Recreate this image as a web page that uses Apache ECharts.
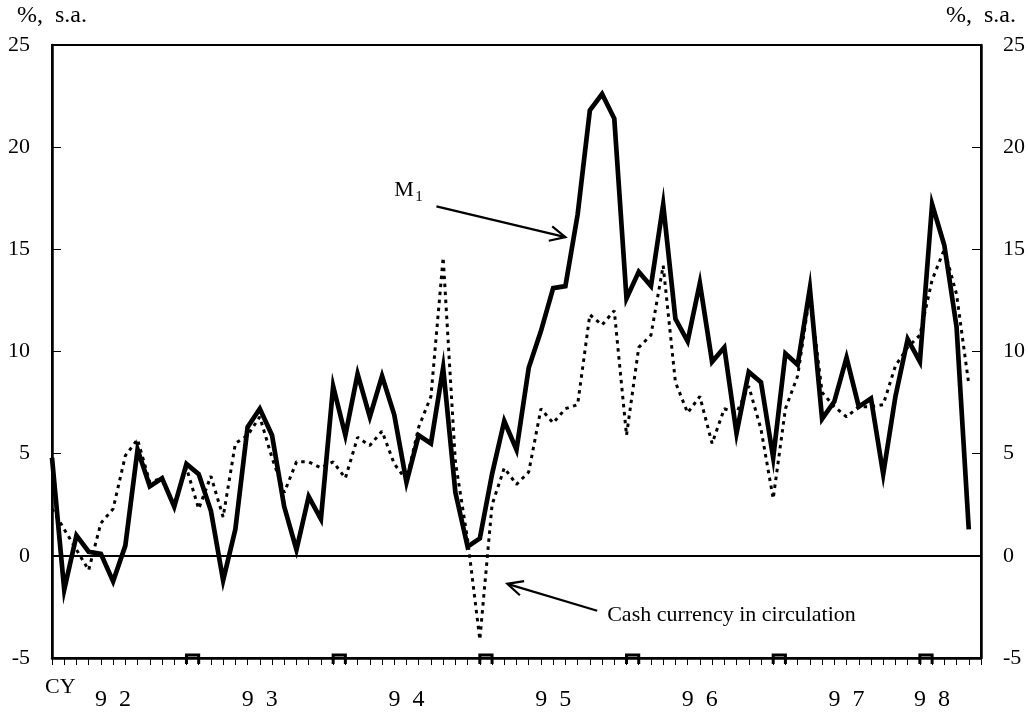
<!DOCTYPE html>
<html>
<head>
<meta charset="utf-8">
<script src="https://cdn.jsdelivr.net/npm/echarts@6/dist/echarts.min.js"></script>
<style>html,body{margin:0;padding:0;background:#fff}#c{width:1028px;height:720px}</style>
</head>
<body>
<div id="c"></div>
<script>
// Monthly categories Jan 1992 .. May 1998 (last slot is empty axis room)
const months = [];
for (let y = 1992; y <= 1998; y++) {
  for (let m = 1; m <= 12; m++) {
    if (months.length < 77) months.push(y + '-' + (m < 10 ? '0' + m : m));
  }
}
// Year labels and the category index they sit under
const yearLabels = ['9\u20022', '9\u20023', '9\u20024', '9\u20025', '9\u20026', '9\u20027', '9\u20028'];
const yearLabelIndex = [5, 17, 29, 41, 53, 65, 72];
// Year boundaries (between Dec and Jan)
const yearBoundaries = [11.5, 23.5, 35.5, 47.5, 59.5, 71.5];

// M1, % s.a. (Jan 92 .. Apr 98)
const m1Values = [
  4.8, -1.66, 1.0, 0.2, 0.1, -1.25, 0.5, 5.2, 3.4, 3.8, 2.4, 4.5,
  4.0, 2.2, -1.2, 1.3, 6.3, 7.2, 5.9, 2.4, 0.3, 2.9, 1.8, 8.3,
  5.9, 8.9, 6.8, 8.8, 6.9, 3.6, 5.9, 5.5, 9.2, 3.1, 0.45, 0.85,
  4.0, 6.6, 5.2, 9.2, 11.0, 13.1, 13.2, 16.7, 21.8, 22.6, 21.4, 12.6,
  13.9, 13.2, 17.2, 11.6, 10.5, 13.35, 9.5, 10.2, 6.0, 9.0, 8.5, 4.8,
  9.9, 9.35, 13.1, 6.7, 7.55, 9.7, 7.3, 7.7, 4.0, 7.8, 10.6, 9.5,
  17.2, 15.2, 11.2, 1.3
];
// Cash currency in circulation, % s.a.
const cashValues = [
  2.3, 1.3, 0.3, -0.7, 1.6, 2.3, 4.9, 5.7, 3.6, 3.8, 2.5, 4.3,
  2.3, 3.9, 1.9, 5.5, 5.9, 6.8, 4.8, 3.1, 4.6, 4.6, 4.3, 4.6,
  3.8, 5.8, 5.4, 6.1, 4.5, 3.7, 6.3, 7.8, 14.6, 4.6, 0.8, -4.1,
  2.5, 4.3, 3.5, 4.1, 7.2, 6.5, 7.2, 7.4, 11.8, 11.3, 12.0, 5.9,
  10.2, 10.8, 14.2, 8.5, 7.0, 7.8, 5.5, 7.2, 7.0, 8.3, 6.2, 2.8,
  7.2, 8.8, 12.8, 8.0, 7.3, 6.8, 7.3, 7.3, 7.4, 9.3, 10.2, 10.8,
  13.5, 15.0, 12.8, 8.4
];
// Y-axis ticks
const yMin = -5, yMax = 25, yStep = 5;

// Annotation arrows [fromX, fromY, toX, toY] in data units
const arrows = [[31.45, 17.1, 42.0, 15.6], [44.6, -2.69, 37.25, -1.37]];
// Annotation texts [x, y, kind]
const notes = [[28.0, 17.9, 'M1'], [45.42, -2.89, 'Cash currency in circulation']];

const FONT = '"Liberation Serif", "Times New Roman", serif';
const chart = echarts.init(document.getElementById('c'));

const yAxisCommon = {
  type: 'value', min: yMin, max: yMax, interval: yStep,
  name: '%,\u2002s.a.', nameLocation: 'end', nameGap: 17,
  nameTextStyle: { fontSize: 24, fontFamily: FONT, color: '#000', align: 'center' },
  axisLine: { show: true, onZero: false, lineStyle: { color: '#000', width: 2.5 } },
  axisTick: { show: true, inside: true, length: 9, lineStyle: { color: '#000', width: 1 } },
  axisLabel: { fontSize: 22, fontFamily: FONT, color: '#000', margin: 22 },
  splitLine: { show: false }
};

chart.setOption({
  animation: false,
  backgroundColor: '#fff',
  grid: { left: 52, right: 46, top: 45, bottom: 62, show: true, borderColor: '#000', borderWidth: 2, backgroundColor: 'transparent' },
  xAxis: [{
    type: 'category', data: months, boundaryGap: false,
    axisLine: { show: true, onZero: false, lineStyle: { color: '#000', width: 2.5 } },
    axisTick: { show: true, interval: 0, length: 7, lineStyle: { color: '#000', width: 1 } },
    axisLabel: {
      interval: function (i) { return yearLabelIndex.indexOf(i) >= 0; },
      formatter: function (v, i) { const k = yearLabelIndex.indexOf(i); return k >= 0 ? yearLabels[k] : ''; },
      fontSize: 24, fontFamily: FONT, color: '#000', margin: 30
    },
    splitLine: { show: false }
  }, {
    type: 'value', min: 0, max: 76, show: false
  }],
  yAxis: [
    Object.assign({}, yAxisCommon, { position: 'left' }),
    Object.assign({}, yAxisCommon, { position: 'right' })
  ],
  graphic: [{
    type: 'text', left: 45, top: 676,
    style: { text: 'CY', font: '22px ' + FONT, fill: '#000' }
  }],
  series: [
    {
      name: 'M1', type: 'line', data: m1Values, symbol: 'none',
      lineStyle: { color: '#000', width: 4.7, join: 'miter', miterLimit: 10 },
      markLine: {
        silent: true, symbol: 'none', label: { show: false },
        lineStyle: { color: '#000', width: 2, type: 'solid' },
        data: [{ yAxis: 0 }]
      },
      z: 3
    },
    {
      name: 'Cash currency in circulation', type: 'line', data: cashValues, symbol: 'none',
      lineStyle: { color: '#000', width: 3, type: [3.5, 4.5] },
      z: 4
    },
    {
      type: 'custom', xAxisIndex: 1, yAxisIndex: 0, silent: true, z: 5,
      data: yearBoundaries.map(function (b) { return [b, yMin]; }),
      renderItem: function (params, api) {
        const p = api.coord([api.value(0), api.value(1)]);
        const hw = api.size([1, 0])[0] / 2;
        return {
          type: 'polyline',
          shape: { points: [[p[0] - hw, p[1] + 6], [p[0] - hw, p[1] - 3], [p[0] + hw, p[1] - 3], [p[0] + hw, p[1] + 6]] },
          style: { stroke: '#000', lineWidth: 3, fill: null }
        };
      }
    },
    {
      type: 'custom', xAxisIndex: 1, yAxisIndex: 0, silent: true, z: 6,
      data: arrows,
      renderItem: function (params, api) {
        const a = api.coord([api.value(0), api.value(1)]);
        const b = api.coord([api.value(2), api.value(3)]);
        const ang = Math.atan2(b[1] - a[1], b[0] - a[0]);
        const L = 17, w = 0.45;
        const h1 = [b[0] - L * Math.cos(ang - w), b[1] - L * Math.sin(ang - w)];
        const h2 = [b[0] - L * Math.cos(ang + w), b[1] - L * Math.sin(ang + w)];
        return {
          type: 'group',
          children: [
            { type: 'line', shape: { x1: a[0], y1: a[1], x2: b[0], y2: b[1] }, style: { stroke: '#000', lineWidth: 2.2 } },
            { type: 'polyline', shape: { points: [h1, b, h2] }, style: { stroke: '#000', lineWidth: 2.2, fill: null } }
          ]
        };
      }
    },
    {
      type: 'custom', xAxisIndex: 1, yAxisIndex: 0, silent: true, z: 6,
      data: notes,
      renderItem: function (params, api) {
        const p = api.coord([api.value(0), api.value(1)]);
        const kind = notes[params.dataIndex][2];
        if (kind === 'M1') {
          return {
            type: 'group',
            children: [
              { type: 'text', x: p[0], y: p[1], style: { text: 'M', font: '22px ' + FONT, fill: '#000', align: 'left', verticalAlign: 'middle' } },
              { type: 'text', x: p[0] + 21, y: p[1] + 7, style: { text: '1', font: '15px ' + FONT, fill: '#000', align: 'left', verticalAlign: 'middle' } }
            ]
          };
        }
        return { type: 'text', x: p[0], y: p[1], style: { text: kind, font: '22px ' + FONT, fill: '#000', align: 'left', verticalAlign: 'middle' } };
      }
    }
  ]
});
</script>
</body>
</html>
